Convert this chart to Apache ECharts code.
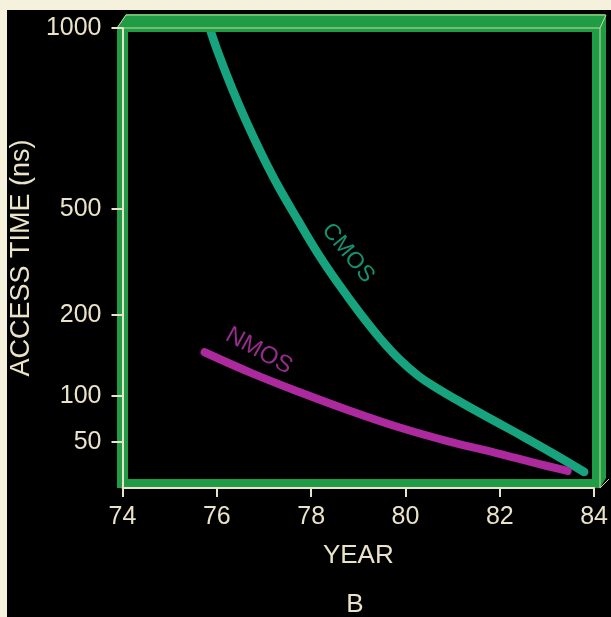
<!DOCTYPE html>
<html>
<head>
<meta charset="utf-8">
<script src="https://cdn.jsdelivr.net/npm/echarts@6/dist/echarts.min.js"></script>
<style>
html,body{margin:0;padding:0;background:#000;}
#chart{width:611px;height:617px;}
</style>
</head>
<body>
<div id="chart"></div>
<script>
// ---- data ----
const cmosYears = [75.86, 76.03, 76.32, 76.61, 76.96, 77.31, 77.73, 78.14, 78.58, 79.03, 79.45, 79.86, 80.27, 80.63, 81.25, 81.87, 82.49, 83.11, 83.79];
const cmosTime  = [995, 931, 834, 746, 649, 561, 466, 375, 288, 206, 172, 146, 125, 111, 91, 73.4, 56, 38, 17.4];
const nmosYears = [75.74, 76.75, 77.79, 78.82, 79.86, 80.89, 81.93, 82.76, 83.44];
const nmosTime  = [154, 128, 104, 84, 66, 51, 38, 27, 18.5];
const yTickLabels = [50, 100, 200, 500, 1000];
// the printed access-time axis is not uniform: anchor values and their relative heights
const yScaleValues  = [0, 50, 100, 200, 500, 1000];
const yScaleHeights = [0, 46, 92, 173, 279, 460];

function toAxis(v) {
  for (let i = 1; i < yScaleValues.length; i++) {
    if (v <= yScaleValues[i] || i === yScaleValues.length - 1) {
      const v0 = yScaleValues[i-1], v1 = yScaleValues[i];
      const h0 = yScaleHeights[i-1], h1 = yScaleHeights[i];
      return h0 + (v - v0) * (h1 - h0) / (v1 - v0);
    }
  }
}
const yTickPos = yTickLabels.map(toAxis);

const cream = '#ebe3c8';
const green = '#1f9c45';
const hi = '#c9dc9c';

const chart = echarts.init(document.getElementById('chart'), null, {renderer: 'canvas'});
chart.setOption({
  animation: false,
  backgroundColor: '#000',
  grid: {left: 117, right: 11, top: 28, bottom: 129, show: false},
  xAxis: {
    type: 'value', min: 74, max: 84, interval: 2, z: 20,
    axisLine: {lineStyle: {color: cream, width: 2}},
    axisTick: {length: 9, lineStyle: {color: cream, width: 2}},
    axisLabel: {color: cream, fontSize: 25, margin: 17, fontFamily: 'Liberation Sans'},
    splitLine: {show: false},
    name: 'YEAR', nameLocation: 'middle', nameGap: 55,
    nameTextStyle: {color: cream, fontSize: 26, fontFamily: 'Liberation Sans'}
  },
  yAxis: {
    type: 'value', min: 0, max: 460, z: 20,
    axisLine: {show: true, lineStyle: {color: cream, width: 2}},
    axisTick: {show: true, length: 11, customValues: yTickPos, lineStyle: {color: cream, width: 2}},
    axisLabel: {
      color: cream, fontSize: 25, margin: 21, fontFamily: 'Liberation Sans',
      customValues: yTickPos,
      formatter: function (val) {
        for (let i = 0; i < yTickPos.length; i++) {
          if (Math.abs(yTickPos[i] - val) < 1e-6) return String(yTickLabels[i]);
        }
        return '';
      }
    },
    splitLine: {show: false},
    name: 'ACCESS TIME (ns)', nameLocation: 'middle', nameRotate: 90, nameGap: 84,
    nameTextStyle: {color: cream, fontSize: 27, fontFamily: 'Liberation Sans'}
  },
  series: [
    {
      name: 'CMOS', type: 'line', smooth: 0.4, showSymbol: false, clip: true,
      lineStyle: {color: '#17a37e', width: 8.5, cap: 'round', join: 'round'},
      data: cmosYears.map((x, i) => [x, toAxis(cmosTime[i])])
    },
    {
      name: 'NMOS', type: 'line', smooth: 0.4, showSymbol: false, clip: true,
      lineStyle: {color: '#ad2a9e', width: 8, cap: 'round', join: 'round'},
      data: nmosYears.map((x, i) => [x, toAxis(nmosTime[i])])
    }
  ],
  graphic: [
    // cream paper edges
    {type: 'rect', shape: {x: 0, y: 0, width: 611, height: 10}, style: {fill: '#f6f1dc'}, z: 1},
    {type: 'rect', shape: {x: 0, y: 0, width: 7, height: 617}, style: {fill: '#f6f1dc'}, z: 1},
    // green 3D frame bands
    {type: 'polygon', shape: {points: [[117,28],[126,14],[606,14],[606,32],[117,32]]}, style: {fill: green}, z: 10},
    {type: 'rect', shape: {x: 117, y: 28, width: 11, height: 460}, style: {fill: green}, z: 10},
    {type: 'polygon', shape: {points: [[592,14],[606,14],[606,478],[600,488],[592,488]]}, style: {fill: green}, z: 10},
    {type: 'rect', shape: {x: 117, y: 479, width: 483, height: 9}, style: {fill: green}, z: 10},
    // highlight edges of the box
    {type: 'polyline', shape: {points: [[117,28],[126,15],[605,15]]}, style: {stroke: hi, lineWidth: 1, fill: null}, z: 11},
    {type: 'polyline', shape: {points: [[117,28],[600,28],[606,15]]}, style: {stroke: hi, lineWidth: 1, fill: null}, z: 11},
    {type: 'polyline', shape: {points: [[600,28],[600,488],[609,479]]}, style: {stroke: hi, lineWidth: 1, fill: null}, z: 11},
    // curve labels
    {type: 'text', x: 348, y: 253, rotation: -51 * Math.PI / 180,
     style: {text: 'CMOS', fill: '#15916f', font: '23px "Liberation Sans"', align: 'center', verticalAlign: 'middle'}, z: 12},
    {type: 'text', x: 259, y: 351, rotation: -29 * Math.PI / 180,
     style: {text: 'NMOS', fill: '#962c8c', font: '24px "Liberation Sans"', align: 'center', verticalAlign: 'middle'}, z: 12},
    {type: 'text', x: 355, y: 605,
     style: {text: 'B', fill: cream, font: '26px "Liberation Sans"', align: 'center', verticalAlign: 'middle'}, z: 12}
  ]
});
</script>
</body>
</html>
